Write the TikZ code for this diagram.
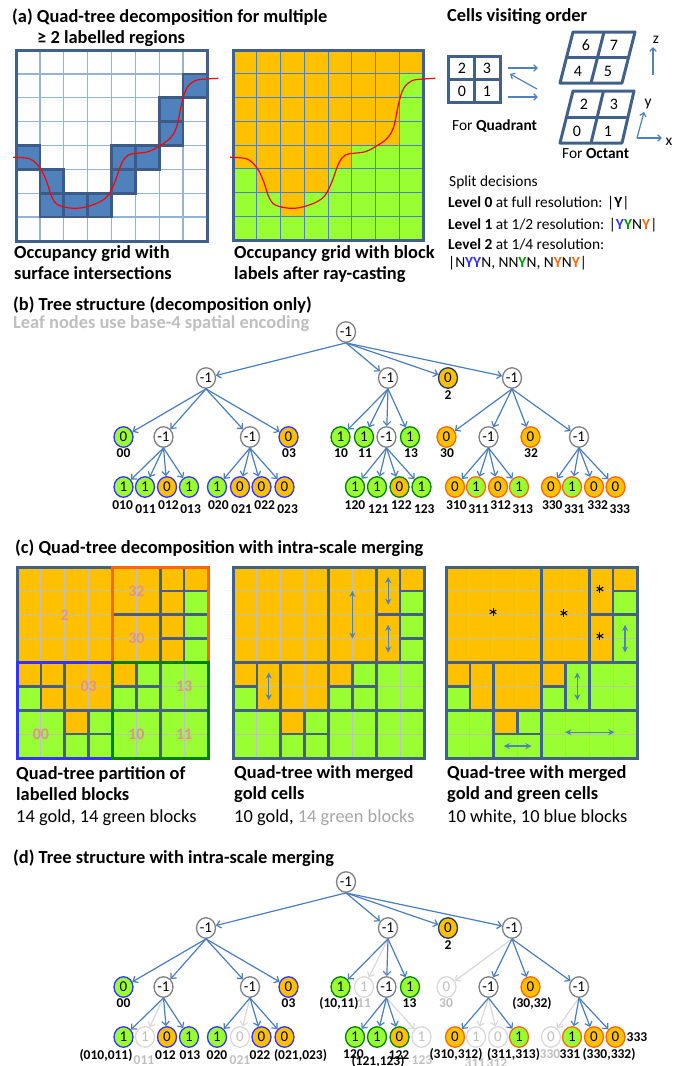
\documentclass[tikz,border=0pt]{standalone}
\usepackage{fontspec}
\setmainfont{Carlito}
\usetikzlibrary{arrows.meta,shapes.geometric}

\definecolor{gold}{RGB}{255,192,0}
\definecolor{lime}{RGB}{153,255,51}
\definecolor{frame}{RGB}{65,97,138}
\definecolor{occ}{RGB}{79,129,189}
\definecolor{occline}{RGB}{60,92,135}
\definecolor{lightgrid}{RGB}{149,179,215}
\definecolor{cellgray}{RGB}{192,192,192}
\definecolor{edgeblue}{RGB}{74,126,187}
\definecolor{qblue}{RGB}{51,51,255}
\definecolor{qgreen}{RGB}{0,128,0}
\definecolor{qorange}{RGB}{255,102,0}
\definecolor{ygreen}{RGB}{0,150,0}
\definecolor{navy}{RGB}{31,56,100}
\definecolor{ghost}{RGB}{217,217,217}
\definecolor{ghosttext}{RGB}{191,191,191}
\definecolor{midgray}{RGB}{166,166,166}
\definecolor{pinklabel}{RGB}{217,150,148}
\definecolor{innergray}{RGB}{127,127,127}
\definecolor{surfred}{RGB}{255,0,0}

\newcommand\titlefnt{\fontsize{18.4pt}{22pt}\selectfont\bfseries}
\newcommand\capfnt{\fontsize{18.4pt}{22pt}\selectfont}
\newcommand\smallfnt{\fontsize{15.4pt}{18pt}\selectfont}
\newcommand\nodefnt{\fontsize{15pt}{18pt}\selectfont}
\newcommand\labfnt{\fontsize{13.5pt}{16pt}\selectfont\bfseries}
\newcommand\cellfnt{\fontsize{16pt}{19pt}\selectfont}
\newcommand\blockfnt{\fontsize{16pt}{19pt}\selectfont\bfseries}

% gold / green label map of the 8x8 occupancy grid (cell units)
\newcommand\labelmap{%
  \fill[lime] (0,0) rectangle (8,8);
  \fill[gold] (0,0) -- (8,0) -- (8,1) -- (7,1) -- (7,4) -- (5,4) -- (5,5) -- (4,5)
     -- (4,6) -- (3,6) -- (3,7) -- (2,7) -- (2,6) -- (1,6) -- (1,5) -- (0,5) -- cycle;}
\newcommand\gridlines[1]{\foreach \i in {1,...,7}{\draw[#1] (\i,0) -- (\i,8); \draw[#1] (0,\i) -- (8,\i);}}

\tikzset{
  txt/.style={anchor=base west, inner sep=0pt},
  ttl/.style={txt, font=\titlefnt},
  capt/.style={txt, font=\capfnt},
  sml/.style={txt, font=\smallfnt},
  tn/.style={ellipse, line width=1.3pt, minimum width=19pt, minimum height=20.5pt, inner sep=0pt, font=\nodefnt},
  inn/.style={tn, draw=innergray, fill=white},
  gnb/.style={tn, fill=lime, draw=qblue},
  gdb/.style={tn, fill=gold, draw=qblue},
  gng/.style={tn, fill=lime, draw=qgreen},
  gdg/.style={tn, fill=gold, draw=qgreen},
  gno/.style={tn, fill=lime, draw=qorange},
  gdo/.style={tn, fill=gold, draw=qorange},
  gdn/.style={tn, fill=gold, draw=navy},
  gh/.style={tn, draw=ghost, fill=white, text=ghosttext},
  lab/.style={font=\labfnt, inner sep=0pt},
  glab/.style={lab, text=ghosttext},
  tedge/.style={draw=edgeblue, line width=1.2pt, -{Straight Barb[length=4pt,width=7.5pt]}},
  gedge/.style={tedge, draw=ghost},
  blockline/.style={draw=frame, line width=2.6pt},
  outerframe/.style={draw=frame, line width=3pt},
  dbl/.style={draw=occ, line width=1.3pt, {Stealth[length=6pt,width=6pt]}-{Stealth[length=6pt,width=6pt]}},
  axarrow/.style={draw=occ, line width=1.2pt, -{Straight Barb[length=3.5pt,width=6.5pt]}},
  blab/.style={font=\blockfnt, text=pinklabel, inner sep=0pt},
  star/.pic={\foreach \a in {90,30,-30} \draw[line width=1pt] (\a:3.8pt) -- (\a+180:3.8pt);},
}

\begin{document}
\begin{tikzpicture}[x=1pt, y=-1pt]
\useasboundingbox[fill=white] (0,0) rectangle (688,1066);

%================ (a) ================
\node[ttl] (ta1) at (12,22) {(a) Quad-tree decomposition for multiple};
\node[ttl] (ta2) at (37,43) {≥ 2 labelled regions};

% occupancy grid with surface intersections
\begin{scope}[shift={(16,50)}, x=23.875pt, y=-23.875pt]
  \gridlines{lightgrid, line width=1.3pt}
  \foreach \cx/\cy in {7/1,6/2,6/3,0/4,4/4,5/4,1/5,4/5,1/6,2/6,3/6}
    \draw[fill=occ, draw=occline, line width=2.6pt] (\cx,\cy) rectangle ++(1,1);
  \draw[outerframe] (0,0) rectangle (8,8);
\end{scope}
\draw[surfred, line width=1.2pt] plot[smooth, tension=0.6] coordinates {(13,157.3) (30,159) (40,168) (46.7,181.7) (51.7,196.7) (58.3,205) (73.3,208.3) (86.7,206.7) (100,201.7) (108.3,195) (115,181.7) (121.7,163.3) (128.3,155) (136.7,153.3) (148.3,151.7) (158.3,146.7) (170,138.3) (176.7,126.7) (181.7,103.3) (186.7,88.3) (195,80.7) (206.7,79) (218.3,78.3)};

% occupancy grid with block labels
\begin{scope}[shift={(233,50)}, x=23.75pt, y=-23.75pt]
  \labelmap
  \gridlines{occ, line width=1pt}
  \draw[outerframe] (0,0) rectangle (8,8);
\end{scope}
\begin{scope}[shift={(217,0)}]
\draw[surfred, line width=1.2pt] plot[smooth, tension=0.6] coordinates {(13,157.3) (30,159) (40,168) (46.7,181.7) (51.7,196.7) (58.3,205) (73.3,208.3) (86.7,206.7) (100,201.7) (108.3,195) (115,181.7) (121.7,163.3) (128.3,155) (136.7,153.3) (148.3,151.7) (158.3,146.7) (170,138.3) (176.7,126.7) (181.7,103.3) (186.7,88.3) (195,80.7) (206.7,79) (218.3,78.3)};
\end{scope}

\node[ttl] (ca1) at (14,258) {Occupancy grid with};
\node[ttl] (ca2) at (14,279) {surface intersections};
\node[ttl] (ca3) at (234,258) {Occupancy grid with block};
\node[ttl] (ca4) at (234,279) {labels after ray-casting};

% cells visiting order
\node[ttl] (tcv) at (447,21) {Cells visiting order};
\draw[outerframe] (448,56) rectangle (500,102);
\draw[outerframe] (474,56) -- (474,102);
\draw[outerframe] (448,79) -- (500,79);
\node[font=\cellfnt, inner sep=0pt] (q2) at (462,68.5) {2};
\node[font=\cellfnt, inner sep=0pt] (q3) at (487,68.5) {3};
\node[font=\cellfnt, inner sep=0pt] (q0) at (462,91) {0};
\node[font=\cellfnt, inner sep=0pt] (q1) at (487,91) {1};

\coordinate (ar1a) at (508,68);  \coordinate (ar1b) at (538,68);
\coordinate (ar2a) at (537,89);  \coordinate (ar2b) at (510,74);
\coordinate (ar3a) at (508,97);  \coordinate (ar3b) at (538,97);
\draw[axarrow] (ar1a) -- (ar1b);
\draw[axarrow] (ar2a) -- (ar2b);
\draw[axarrow] (ar3a) -- (ar3b);

\draw[outerframe, line join=round] (573,32) -- (635,32) -- (622,83) -- (560,83) -- cycle;
\draw[outerframe] (604,32) -- (591,83);
\draw[outerframe] (566.5,57.5) -- (628.5,57.5);
\draw[outerframe, line join=round] (573,91) -- (634,91) -- (622,143) -- (560,143) -- cycle;
\draw[outerframe] (603.5,91) -- (591,143);
\draw[outerframe] (566.5,117) -- (628,117);
\node[font=\cellfnt, inner sep=0pt] (o6) at (586,45) {6};
\node[font=\cellfnt, inner sep=0pt] (o7) at (614,45) {7};
\node[font=\cellfnt, inner sep=0pt] (o4) at (578,71) {4};
\node[font=\cellfnt, inner sep=0pt] (o5) at (608,71) {5};
\node[font=\cellfnt, inner sep=0pt] (o2) at (584,104) {2};
\node[font=\cellfnt, inner sep=0pt] (o3) at (614,104) {3};
\node[font=\cellfnt, inner sep=0pt] (o0) at (577,131) {0};
\node[font=\cellfnt, inner sep=0pt] (o1) at (608,131) {1};

\coordinate (zb) at (653,75); \coordinate (zt) at (653,47);
\coordinate (ax0) at (637,138); \coordinate (ayt) at (644,112); \coordinate (axt) at (662,138);
\draw[axarrow] (zb) -- (zt);
\draw[axarrow] (ax0) -- (ayt);
\draw[axarrow] (ax0) -- (axt);
\node[font=\smallfnt, inner sep=0pt] (lz) at (656,40) {z};
\node[font=\smallfnt, inner sep=0pt] (ly) at (648,104) {y};
\node[font=\smallfnt, inner sep=0pt] (lx) at (669,142) {x};

\node[sml] (fq) at (452,130) {For \textbf{Quadrant}};
\node[sml] (fo) at (562,158) {For \textbf{Octant}};
\node[sml] (sd) at (449,186) {Split decisions};
\node[sml] (lv0) at (448,207) {\textbf{Level 0} at full resolution: |\textbf{Y}|};
\node[sml] (lv1) at (448,229) {\textbf{Level 1} at 1/2 resolution: |\textcolor{qblue}{\textbf{Y}}\textcolor{ygreen}{\textbf{Y}}N\textcolor{qorange}{\textbf{Y}}|};
\node[sml] (lv2) at (448,249) {\textbf{Level 2} at 1/4 resolution:};
\node[sml] (lv2b) at (448,267) {|N\textcolor{qblue}{\textbf{YY}}N, NN\textcolor{ygreen}{\textbf{Y}}N, N\textcolor{qorange}{\textbf{Y}}N\textcolor{qorange}{\textbf{Y}}|};

%================ (b) ================
\node[ttl] (tb1) at (13,310) {(b) Tree structure (decomposition only)};
\node[ttl, text=ghosttext] (tb2) at (13,328) {Leaf nodes use base-4 spatial encoding};

\node[inn] (bR) at (346,332) {-1};
\node[inn] (bA) at (206,378) {-1};
\node[inn] (bB) at (388,378) {-1};
\node[gdn] (bC) at (448,378) {0};
\node[inn] (bD) at (512,378) {-1};

\node[gnb] (b00) at (123.5,437) {0};
\node[inn] (b01) at (163.5,437) {-1};
\node[inn] (b02) at (250,437) {-1};
\node[gdb] (b03) at (288.5,437) {0};
\node[gng] (b10) at (340.5,437) {1};
\node[gng] (b11) at (364,437) {1};
\node[inn] (b12) at (386.5,437) {-1};
\node[gng] (b13) at (410,437) {1};
\node[gdo] (b30) at (446.5,437) {0};
\node[inn] (b31) at (488.5,437) {-1};
\node[gdo] (b32) at (530.5,437) {0};
\node[inn] (b33) at (579,437) {-1};

\node[gnb] (b010) at (123.5,487) {1};
\node[gnb] (b011) at (145,487) {1};
\node[gdb] (b012) at (167,487) {0};
\node[gnb] (b013) at (189,487) {1};
\node[gnb] (b020) at (217,487) {1};
\node[gdb] (b021) at (240,487) {0};
\node[gdb] (b022) at (261.5,487) {0};
\node[gdb] (b023) at (284.5,487) {0};
\node[gng] (b120) at (355,487) {1};
\node[gng] (b121) at (377,487) {1};
\node[gdg] (b122) at (399.5,487) {0};
\node[gng] (b123) at (421.5,487) {1};
\node[gdo] (b310) at (455,487) {0};
\node[gno] (b311) at (476,487) {1};
\node[gdo] (b312) at (498,487) {0};
\node[gno] (b313) at (519,487) {1};
\node[gdo] (b330) at (551,487) {0};
\node[gno] (b331) at (572,487) {1};
\node[gdo] (b332) at (594,487) {0};
\node[gdo] (b333) at (615.5,487) {0};

\foreach \p/\cs in {bR/{bA,bB,bC,bD}, bA/{b00,b01,b02,b03}, bB/{b10,b11,b12,b13}, bD/{b30,b31,b32,b33},
    b01/{b010,b011,b012,b013}, b02/{b020,b021,b022,b023}, b12/{b120,b121,b122,b123},
    b31/{b310,b311,b312,b313}, b33/{b330,b331,b332,b333}}
  \foreach \ch in \cs \draw[tedge] (\p.south) -- (\ch);

\foreach \t/\x/\y in {2/448/395.5, 00/123.5/453, 03/289/453, 10/341/453, 11/365/453, 13/411/453, 30/447/453, 32/531/453,
    010/122.6/505, 011/145.6/509.5, 012/168.5/505, 013/190.6/509.5, 020/218.4/505, 021/241.7/509.5, 022/264.7/505, 023/287.6/509.5,
    120/355/505, 121/378.5/509.5, 122/401.4/505, 123/424.3/509.5, 310/456.5/505, 311/478.6/509.5, 312/500.7/505, 313/522.7/509.5,
    330/552.3/505, 331/574.3/509.5, 332/597.7/505, 333/619.8/509.5}
  \node[lab] (lb\t) at (\x,\y) {\t};

%================ (c) ================
\node[ttl] (tc) at (15,553) {(c) Quad-tree decomposition with intra-scale merging};

% partition of labelled blocks
\begin{scope}[shift={(17,567)}, x=23.875pt, y=-23.875pt]
  \labelmap
  \gridlines{cellgray, line width=1pt}
  \foreach \xa/\ya/\xb/\yb in {0/0/4/4, 4/0/6/2, 4/2/6/4, 6/0/7/1, 7/0/8/1, 6/1/7/2, 7/1/8/2, 6/2/7/3, 7/2/8/3, 6/3/7/4, 7/3/8/4,
      0/4/1/5, 1/4/2/5, 0/5/1/6, 1/5/2/6, 2/4/4/6, 0/6/2/8, 2/6/3/7, 3/6/4/7, 2/7/3/8, 3/7/4/8,
      4/4/5/5, 5/4/6/5, 4/5/5/6, 5/5/6/6, 6/4/8/6, 4/6/6/8, 6/6/8/8}
    \draw[blockline] (\xa,\ya) rectangle (\xb,\yb);
  \draw[outerframe] (0,0) rectangle (8,8);
  \draw[qorange, line width=3pt] (4,0) rectangle (8,4);
  \draw[qblue, line width=3pt] (0,4) rectangle (4,8);
  \draw[qgreen, line width=3pt] (4,4) rectangle (8,8);
  \node[blab] (k2) at (2,2) {2};
  \node[blab] (k32) at (5,1) {32};
  \node[blab] (k30) at (5,3) {30};
  \node[blab] (k03) at (3,5) {03};
  \node[blab] (k00) at (1,7) {00};
  \node[blab] (k10) at (5,7) {10};
  \node[blab] (k11) at (7,7) {11};
  \node[blab] (k13) at (7,5) {13};
\end{scope}

% merged gold cells
\begin{scope}[shift={(233,567)}, x=23.875pt, y=-23.875pt]
  \labelmap
  \gridlines{cellgray, line width=1pt}
  \foreach \xa/\ya/\xb/\yb in {0/0/4/4, 4/0/6/4, 6/0/7/2, 6/2/7/4, 7/0/8/1, 7/1/8/2, 7/2/8/3, 7/3/8/4,
      0/4/1/5, 0/5/1/6, 1/4/2/6, 2/4/4/6, 4/4/5/5, 5/4/6/5, 4/5/5/6, 5/5/6/6, 6/4/8/6,
      0/6/2/8, 2/6/3/7, 3/6/4/7, 2/7/3/8, 3/7/4/8, 4/6/6/8, 6/6/8/8}
    \draw[blockline] (\xa,\ya) rectangle (\xb,\yb);
  \draw[outerframe] (0,0) rectangle (8,8);
  \coordinate (ma1) at (5,1);     \coordinate (ma2) at (5,3);
  \coordinate (mb1) at (6.5,0.42); \coordinate (mb2) at (6.5,1.58);
  \coordinate (mc1) at (6.5,2.42); \coordinate (mc2) at (6.5,3.58);
  \coordinate (md1) at (1.5,4.42); \coordinate (md2) at (1.5,5.58);
  \draw[dbl] (ma1) -- (ma2);
  \draw[dbl] (mb1) -- (mb2);
  \draw[dbl] (mc1) -- (mc2);
  \draw[dbl] (md1) -- (md2);
\end{scope}

% merged gold and green cells
\begin{scope}[shift={(446,567)}, x=23.875pt, y=-23.875pt]
  \labelmap
  \gridlines{cellgray, line width=1pt}
  \foreach \xa/\ya/\xb/\yb in {0/0/4/4, 4/0/6/4, 6/0/7/2, 6/2/7/4, 7/0/8/1, 7/1/8/2, 7/2/8/4,
      0/4/1/5, 0/5/1/6, 1/4/2/6, 2/4/4/6, 4/4/5/5, 4/5/5/6, 5/4/6/6, 6/4/8/6,
      0/6/2/8, 2/6/3/7, 3/6/4/7, 2/7/4/8, 4/6/8/8}
    \draw[blockline] (\xa,\ya) rectangle (\xb,\yb);
  \draw[outerframe] (0,0) rectangle (8,8);
  \coordinate (na1) at (7.5,2.42); \coordinate (na2) at (7.5,3.58);
  \coordinate (nb1) at (5.5,4.42); \coordinate (nb2) at (5.5,5.58);
  \coordinate (nc1) at (2.42,7.5); \coordinate (nc2) at (3.58,7.5);
  \coordinate (nd1) at (5,6.92);   \coordinate (nd2) at (7.05,6.92);
  \draw[dbl] (na1) -- (na2);
  \draw[dbl] (nb1) -- (nb2);
  \draw[dbl] (nc1) -- (nc2);
  \draw[dbl] (nd1) -- (nd2);
  \pic at (1.97,1.88) {star};
  \pic at (4.94,1.93) {star};
  \pic at (6.45,0.92) {star};
  \pic at (6.45,2.89) {star};
\end{scope}

\node[ttl] (cc1) at (16,779) {Quad-tree partition of};
\node[ttl] (cc2) at (16,800) {labelled blocks};
\node[capt] (cc3) at (16,822) {14 gold, 14 green blocks};
\node[ttl] (cc4) at (234,778) {Quad-tree with merged};
\node[ttl] (cc5) at (234,799) {gold cells};
\node[capt] (cc6) at (234,822) {10 gold, \textcolor{midgray}{14 green blocks}};
\node[ttl] (cc7) at (447,778) {Quad-tree with merged};
\node[ttl] (cc8) at (447,799) {gold and green cells};
\node[capt] (cc9) at (447,822) {10 white, 10 blue blocks};

%================ (d) ================
\node[ttl] (td) at (13,863) {(d) Tree structure with intra-scale merging};

\begin{scope}[shift={(0,550)}]
\node[inn] (dR) at (346,332) {-1};
\node[inn] (dA) at (206,378) {-1};
\node[inn] (dB) at (388,378) {-1};
\node[gdn] (dC) at (448,378) {0};
\node[inn] (dD) at (512,378) {-1};

\node[gnb] (d00) at (123.5,437) {0};
\node[inn] (d01) at (163.5,437) {-1};
\node[inn] (d02) at (250,437) {-1};
\node[gdb] (d03) at (288.5,437) {0};
\node[gng] (d10) at (340.5,437) {1};
\node[gh]  (d11) at (364,437) {1};
\node[inn] (d12) at (386.5,437) {-1};
\node[gng] (d13) at (410,437) {1};
\node[gh]  (d30) at (446.5,437) {0};
\node[inn] (d31) at (488.5,437) {-1};
\node[gdo] (d32) at (530.5,437) {0};
\node[inn] (d33) at (579,437) {-1};

\node[gnb] (d010) at (123.5,487) {1};
\node[gh]  (d011) at (145,487) {1};
\node[gdb] (d012) at (167,487) {0};
\node[gnb] (d013) at (189,487) {1};
\node[gnb] (d020) at (217,487) {1};
\node[gh]  (d021) at (240,487) {0};
\node[gdb] (d022) at (261.5,487) {0};
\node[gdb] (d023) at (284.5,487) {0};
\node[gng] (d120) at (355,487) {1};
\node[gng] (d121) at (377,487) {1};
\node[gdg] (d122) at (399.5,487) {0};
\node[gh]  (d123) at (421.5,487) {1};
\node[gdo] (d310) at (455,487) {0};
\node[gh]  (d311) at (476,487) {1};
\node[gh]  (d312) at (498,487) {0};
\node[gno] (d313) at (519,487) {1};
\node[gh]  (d330) at (551,487) {0};
\node[gno] (d331) at (572,487) {1};
\node[gdo] (d332) at (594,487) {0};
\node[gdo] (d333) at (615.5,487) {0};

\foreach \p/\ch in {dB/d11, dD/d30, d01/d011, d02/d021, d12/d123, d31/d311, d31/d312, d33/d330}
  \draw[gedge] (\p.south) -- (\ch);
\foreach \p/\cs in {dR/{dA,dB,dC,dD}, dA/{d00,d01,d02,d03}, dB/{d10,d12,d13}, dD/{d31,d32,d33},
    d01/{d010,d012,d013}, d02/{d020,d022,d023}, d12/{d120,d121,d122},
    d31/{d310,d313}, d33/{d331,d332,d333}}
  \foreach \ch in \cs \draw[tedge] (\p.south) -- (\ch);

\node[lab] (ld2) at (448,395.5) {2};
\node[lab] (ld00) at (123.5,453) {00};
\node[lab] (ld03) at (288.5,453) {03};
\node[glab] (ld11) at (364,453) {11};
\node[lab] (ld1011) at (339,453) {(10,11)};
\node[lab] (ld13) at (409.5,453) {13};
\node[glab] (ld30) at (446,453) {30};
\node[lab] (ld3032) at (532,453) {(30,32)};

\node[glab] (ld011) at (144,510) {011};
\node[lab] (ld010011) at (106,505) {(010,011)};
\node[lab] (ld012) at (165.5,505) {012};
\node[lab] (ld013) at (190,505) {013};
\node[lab] (ld020) at (217,505) {020};
\node[glab] (ld021) at (240,510.5) {021};
\node[lab] (ld022) at (260,505) {022};
\node[lab] (ld021023) at (300.5,505) {(021,023)};
\node[glab] (ld123) at (422,510) {123};
\node[lab] (ld120) at (353.5,504) {120};
\node[lab] (ld121123) at (378,511.5) {(121,123)};
\node[lab] (ld122) at (399,505) {122};
\node[glab] (ld311) at (475,513) {311};
\node[glab] (ld312) at (497,513) {312};
\node[lab] (ld310312) at (456,504) {(310,312)};
\node[lab] (ld311313) at (513.5,504) {(311,313)};
\node[glab] (ld330) at (550,504) {330};
\node[lab] (ld331) at (570,504) {331};
\node[lab] (ld330332) at (609,504) {(330,332)};
\node[lab] (ld333) at (637,487) {333};
\end{scope}

\end{tikzpicture}
\end{document}
